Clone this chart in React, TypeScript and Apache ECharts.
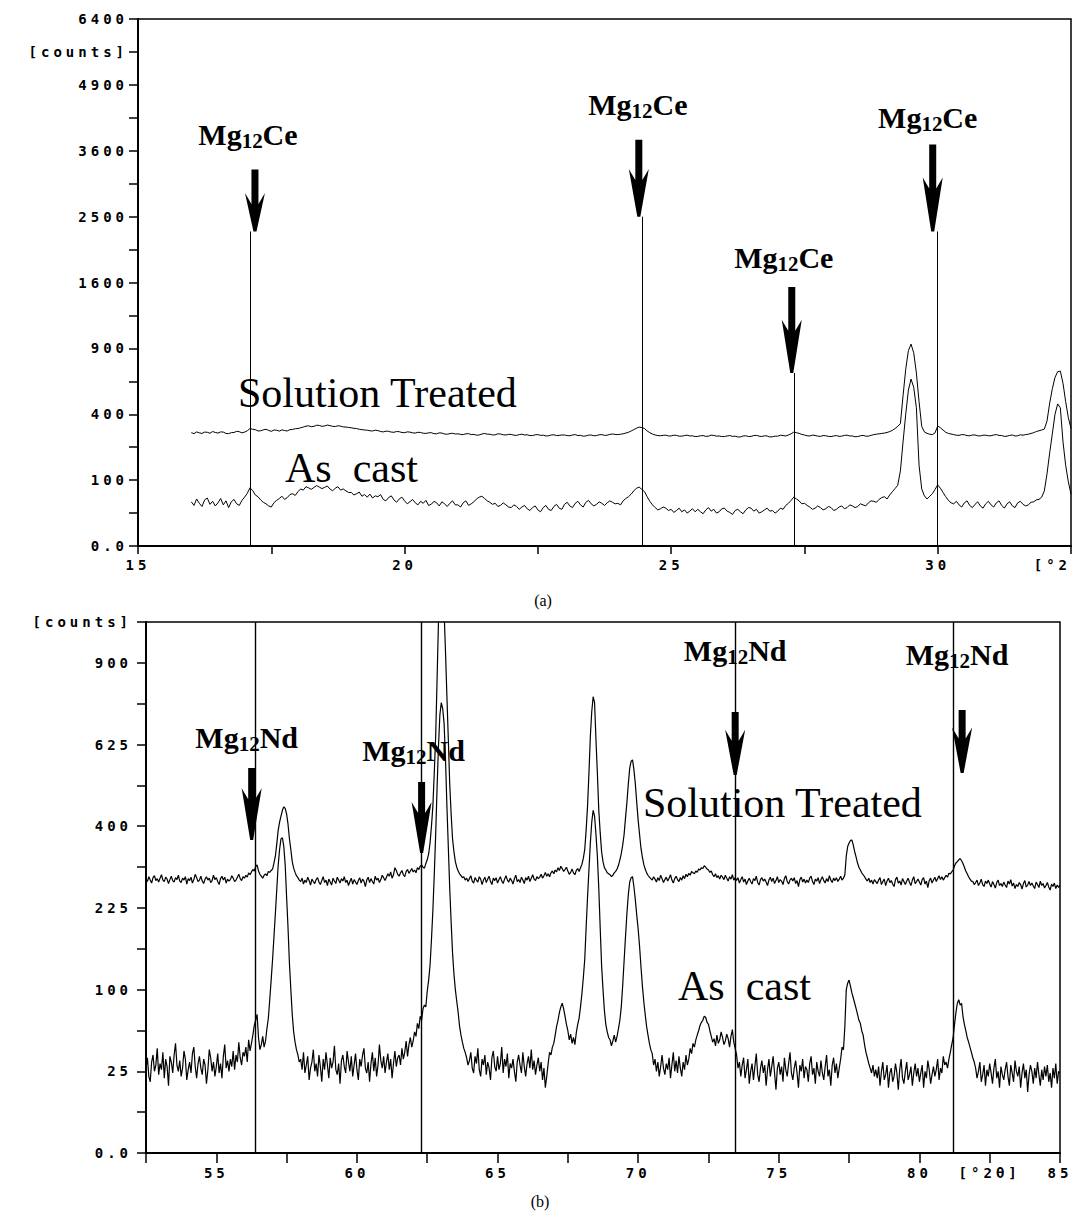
import React, { useEffect, useRef } from "react";
import * as echarts from "echarts";

// ---------------- data ----------------
// panel (a): intensity [counts], 2θ sampled from 16.00° every 0.05°
const A_START = 16.0;
const A_STEP = 0.05;
const solutionTreatedA = [
  296, 291, 300, 295, 292, 299, 298, 293, 302, 297,
  294, 300, 299, 292, 291, 296, 297, 303, 301, 295,
  299, 306, 318, 314, 312, 305, 306, 311, 314, 308,
  303, 310, 309, 304, 311, 307, 305, 312, 313, 317,
  318, 322, 326, 331, 333, 328, 330, 336, 335, 330,
  332, 337, 334, 330, 329, 333, 331, 327, 326, 324,
  322, 319, 318, 314, 312, 310, 309, 306, 305, 309,
  307, 302, 300, 304, 303, 299, 298, 302, 301, 297,
  296, 300, 299, 295, 294, 298, 297, 293, 292, 295,
  296, 291, 290, 295, 294, 289, 288, 291, 293, 289,
  290, 287, 286, 290, 291, 286, 287, 283, 284, 289,
  292, 288, 288, 284, 285, 290, 289, 285, 284, 287,
  287, 283, 282, 286, 288, 284, 285, 281, 281, 285,
  286, 282, 283, 279, 280, 284, 285, 281, 282, 284,
  284, 281, 280, 284, 286, 281, 282, 278, 279, 283,
  284, 280, 281, 285, 286, 282, 283, 287, 289, 287,
  286, 288, 290, 294, 298, 305, 312, 320, 326, 323,
  318, 305, 296, 289, 284, 281, 280, 282, 283, 279,
  279, 283, 282, 278, 278, 281, 283, 279, 280, 276,
  277, 280, 281, 277, 278, 283, 282, 278, 279, 276,
  276, 279, 281, 277, 278, 274, 274, 279, 280, 276,
  277, 281, 282, 278, 276, 280, 279, 274, 275, 278,
  278, 283, 281, 279, 284, 290, 299, 296, 292, 287,
  284, 280, 279, 283, 282, 278, 277, 281, 280, 277,
  276, 279, 281, 277, 278, 282, 283, 279, 279, 275,
  276, 280, 282, 278, 278, 282, 286, 288, 290, 292,
  294, 297, 302, 308, 318, 330, 345, 520, 720, 880,
  939, 860, 690, 480, 330, 300, 292, 288, 286, 295,
  332, 322, 310, 298, 292, 289, 286, 283, 282, 286,
  285, 281, 280, 284, 284, 280, 279, 283, 283, 280,
  280, 284, 286, 282, 281, 277, 278, 282, 284, 279,
  280, 285, 283, 286, 288, 292, 296, 302, 306, 310,
  315, 360, 470, 570, 655, 700, 705, 610, 480, 380,
  318,
];
const asCastA = [
  45, 38, 51, 42, 36, 49, 53, 40, 46, 37,
  43, 52, 39, 47, 34, 45, 50, 41, 38, 48,
  55, 64, 78, 71, 60, 56, 49, 44, 41, 37,
  35, 43, 48, 52, 57, 50, 54, 61, 63, 59,
  68, 75, 72, 81, 78, 74, 79, 84, 80, 76,
  79, 83, 75, 70, 77, 81, 72, 75, 70, 66,
  66, 60, 63, 67, 57, 61, 55, 62, 53, 58,
  56, 61, 50, 47, 54, 58, 49, 44, 51, 55,
  47, 41, 45, 50, 43, 39, 46, 42, 48, 38,
  40, 46, 43, 37, 45, 41, 36, 42, 47, 39,
  39, 35, 43, 47, 38, 41, 45, 51, 55, 57,
  52, 47, 44, 40, 42, 36, 38, 43, 39, 35,
  34, 39, 36, 31, 35, 38, 32, 29, 34, 37,
  30, 27, 34, 38, 31, 29, 36, 40, 33, 31,
  40, 44, 37, 34, 42, 46, 39, 35, 44, 48,
  41, 37, 40, 45, 42, 38, 43, 47, 44, 41,
  42, 39, 47, 52, 56, 62, 70, 77, 80, 74,
  68, 56, 46, 39, 34, 30, 32, 35, 33, 29,
  31, 26, 29, 33, 27, 30, 25, 28, 32, 27,
  31, 27, 24, 30, 34, 28, 31, 25, 27, 32,
  33, 28, 26, 23, 29, 31, 27, 24, 30, 34,
  33, 28, 31, 25, 27, 30, 33, 28, 29, 25,
  28, 33, 31, 38, 42, 48, 55, 51, 47, 41,
  42, 38, 35, 31, 33, 37, 34, 30, 32, 36,
  34, 29, 31, 35, 37, 32, 34, 39, 37, 34,
  36, 41, 39, 37, 43, 47, 46, 44, 50, 54,
  56, 51, 60, 68, 76, 85, 130, 250, 400, 560,
  642, 580, 440, 150, 75, 58, 51, 57, 63, 74,
  86, 77, 66, 56, 48, 43, 41, 46, 39, 35,
  43, 47, 38, 34, 40, 45, 37, 33, 41, 46,
  39, 35, 43, 47, 38, 33, 41, 45, 37, 34,
  43, 46, 40, 37, 39, 44, 45, 49, 50, 55,
  70, 120, 200, 290, 400, 465, 440, 250, 150, 95,
  62,
];

// panel (b): intensity [counts], 2θ sampled from 52.50° every 0.05°
const B_START = 52.5;
const B_STEP = 0.05;
const solutionTreatedB = [
  281, 276, 286, 279, 273, 284, 288, 278, 282, 275,
  283, 290, 279, 276, 285, 281, 272, 280, 287, 278,
  275, 284, 280, 289, 277, 274, 283, 279, 286, 271,
  282, 278, 285, 273, 280, 291, 284, 276, 279, 287,
  277, 272, 281, 286, 279, 283, 274, 278, 289, 280,
  284, 276, 270, 282, 287, 279, 285, 273, 281, 277,
  280, 288, 283, 276, 279, 285, 291, 282, 278, 286,
  283, 289, 285, 294, 290, 296, 301, 298, 307, 311,
  298, 291, 287, 283, 289, 292, 288, 297, 295, 299,
  302, 315, 330, 358, 390, 410, 425, 440, 449, 445,
  430, 405, 370, 345, 318, 304, 295, 288, 284, 279,
  276, 283, 271, 279, 274, 285, 278, 269, 281, 276,
  272, 280, 284, 275, 270, 278, 286, 274, 279, 268,
  281, 275, 269, 283, 277, 272, 285, 279, 273, 282,
  277, 286, 274, 279, 268, 276, 283, 271, 280, 275,
  270, 278, 284, 273, 281, 277, 266, 279, 285, 274,
  282, 276, 271, 287, 279, 283, 274, 280, 289, 284,
  278, 285, 292, 287, 296, 283, 290, 305, 299, 291,
  287, 294, 299, 290, 286, 297, 301, 293, 298, 303,
  296, 300, 294, 305, 301, 308, 311, 306, 304, 314,
  322, 335, 360, 400, 450, 540, 650, 840, 1060, 1150,
  1200, 1160, 1100, 940, 780, 640, 510, 430, 370, 340,
  318, 306, 298, 292, 288, 284, 286, 279, 283, 276,
  282, 288, 277, 273, 284, 279, 275, 286, 281, 270,
  279, 285, 274, 281, 287, 276, 270, 283, 278, 284,
  273, 280, 286, 277, 272, 281, 288, 279, 275, 283,
  278, 271, 282, 289, 276, 280, 274, 285, 279, 272,
  284, 279, 287, 276, 283, 290, 281, 278, 286, 282,
  285, 291, 283, 288, 295, 287, 292, 286, 294, 298,
  292, 300, 296, 305, 299, 308, 303, 297, 301, 306,
  298, 291, 295, 302, 294, 290, 299, 303, 297, 305,
  312, 325, 345, 390, 450, 540, 650, 730, 780, 760,
  640, 540, 440, 385, 340, 318, 305, 300, 294, 292,
  290, 286, 289, 294, 297, 302, 310, 322, 336, 355,
  380, 420, 460, 510, 555, 575, 579, 550, 510, 460,
  415, 380, 348, 328, 312, 302, 294, 289, 285, 282,
  279, 286, 281, 275, 284, 278, 289, 282, 274, 280,
  285, 277, 283, 290, 279, 273, 282, 287, 280, 276,
  284, 279, 288, 282, 291, 286, 293, 289, 297, 294,
  292, 298, 295, 302, 300, 305, 303, 309, 306, 302,
  300, 295, 298, 290, 286, 292, 284, 288, 281, 289,
  285, 280, 289, 283, 277, 286, 281, 290, 279, 284,
  278, 284, 273, 280, 286, 275, 281, 270, 277, 283,
  276, 271, 282, 278, 287, 274, 269, 280, 284, 277,
  281, 275, 268, 279, 285, 276, 283, 272, 278, 286,
  274, 280, 277, 270, 282, 288, 276, 271, 279, 283,
  277, 284, 272, 278, 266, 280, 285, 275, 281, 273,
  279, 274, 283, 287, 276, 270, 281, 277, 284, 272,
  280, 286, 278, 273, 282, 276, 288, 279, 274, 283,
  278, 284, 276, 281, 287, 279, 283, 290, 330, 352,
  360, 366, 367, 355, 340, 328, 315, 306, 300, 294,
  290, 286, 281, 277, 283, 274, 279, 271, 280, 276,
  272, 279, 284, 270, 276, 281, 268, 277, 283, 274,
  278, 271, 266, 280, 285, 273, 277, 269, 282, 276,
  270, 277, 283, 274, 268, 279, 286, 272, 276, 281,
  275, 269, 280, 284, 271, 277, 264, 278, 283, 273,
  279, 285, 276, 282, 288, 280, 286, 279, 284, 289,
  285, 293, 292, 296, 300, 309, 315, 318, 322, 325,
  320, 314, 306, 298, 292, 286, 281, 277, 276, 270,
  274, 279, 268, 273, 281, 270, 266, 277, 272, 279,
  271, 265, 276, 270, 263, 274, 279, 268, 272, 266,
  275, 269, 264, 277, 271, 280, 267, 273, 262, 270,
  266, 274, 270, 261, 272, 278, 265, 269, 276, 268,
  273, 267, 262, 275, 270, 264, 277, 268, 272, 263,
  268, 274, 265, 259, 271, 266, 273, 262, 269, 264,
  269,
];
const asCastB = [
  27, 34, 22, 19, 31, 36, 25, 29, 41, 23,
  30, 26, 38, 21, 33, 28, 17, 35, 31, 24,
  36, 45, 29, 25, 32, 22, 27, 39, 33, 20,
  26, 31, 24, 37, 42, 28, 21, 30, 35, 27,
  23, 33, 29, 18, 26, 40, 34, 25, 31, 22,
  28, 37, 24, 30, 21, 35, 44, 27, 32, 25,
  33, 28, 39, 26, 36, 31, 46, 34, 29, 38,
  35, 42, 31, 48, 39, 45, 52, 61, 66, 72,
  50, 40, 44, 51, 42, 47, 58, 68, 88, 112,
  140, 175, 215, 260, 310, 345, 370, 372, 352, 310,
  245, 190, 135, 100, 72, 55, 46, 40, 36, 31,
  33, 26, 38, 24, 29, 35, 20, 27, 31, 40,
  25, 30, 22, 36, 28, 19, 33, 26, 38, 29,
  21, 34, 27, 31, 43, 26, 23, 30, 18, 32,
  36, 28, 24, 39, 31, 25, 35, 22, 29, 37,
  26, 20, 33, 28, 36, 41, 27, 24, 31, 19,
  30, 38, 25, 34, 22, 29, 44, 32, 27, 35,
  24, 31, 37, 26, 33, 21, 30, 39, 28, 34,
  36, 29, 41, 33, 38, 47, 35, 44, 50, 42,
  47, 55, 51, 63, 58, 70, 66, 78, 82, 80,
  98, 112, 132, 170, 220, 290, 380, 500, 620, 720,
  760, 740, 690, 580, 450, 350, 262, 200, 150, 120,
  100, 86, 74, 60, 52, 46, 41, 38, 34, 29,
  32, 38, 27, 24, 35, 30, 41, 26, 22, 33,
  29, 36, 23, 31, 27, 20, 34, 39, 28, 25,
  35, 26, 30, 42, 24, 33, 28, 37, 21, 30,
  27, 33, 25, 19, 31, 36, 29, 24, 38, 28,
  22, 30, 35, 27, 40, 26, 32, 23, 29, 34,
  25, 31, 20, 27, 16, 22, 30, 38, 36, 42,
  45, 52, 60, 66, 74, 80, 84, 78, 70, 62,
  56, 48, 53, 45, 50, 44, 54, 62, 68, 80,
  95, 115, 140, 190, 245, 300, 360, 410, 440, 425,
  380, 330, 262, 190, 132, 100, 76, 62, 55, 50,
  48, 43, 47, 52, 46, 51, 58, 66, 80, 105,
  138, 175, 215, 250, 275, 284, 286, 265, 240, 212,
  188, 160, 130, 105, 86, 72, 60, 52, 45, 40,
  37, 29, 33, 25, 31, 22, 28, 36, 27, 23,
  30, 26, 34, 21, 29, 38, 25, 32, 24, 35,
  27, 22, 31, 26, 36, 29, 33, 41, 37, 45,
  42, 48, 52, 56, 61, 64, 66, 70, 69, 64,
  62, 56, 51, 46, 49, 43, 52, 45, 48, 55,
  50, 44, 47, 53, 49, 42, 51, 57, 46, 41,
  36, 27, 31, 22, 29, 34, 21, 26, 33, 18,
  25, 30, 20, 28, 37, 23, 19, 27, 32, 24,
  29, 17, 26, 33, 22, 28, 35, 24, 15, 27,
  31, 23, 28, 19, 34, 26, 22, 30, 38, 24,
  20, 27, 32, 24, 16, 29, 25, 33, 21, 28,
  26, 19, 30, 35, 23, 27, 18, 31, 25, 22,
  32, 24, 20, 28, 36, 22, 26, 17, 29, 34,
  24, 30, 21, 27, 33, 42, 40, 60, 100, 108,
  112, 104, 96, 90, 84, 78, 72, 66, 63, 56,
  52, 44, 38, 34, 30, 27, 24, 29, 22, 26,
  21, 28, 17, 25, 31, 20, 23, 29, 16, 24,
  27, 19, 22, 30, 24, 15, 26, 33, 21, 18,
  25, 31, 20, 23, 28, 17, 24, 30, 22, 27,
  19, 24, 29, 16, 25, 21, 32, 26, 18, 23,
  28, 22, 26, 33, 20, 27, 24, 35, 29, 31,
  27, 33, 38, 44, 50, 62, 74, 84, 88, 82,
  84, 70, 62, 56, 50, 46, 42, 38, 34, 31,
  27, 21, 25, 31, 19, 23, 29, 17, 26, 22,
  30, 24, 18, 27, 33, 21, 25, 16, 28, 23,
  20, 26, 31, 22, 17, 29, 24, 19, 32, 25,
  22, 28, 16, 24, 30, 21, 26, 14, 23, 29,
  25, 18, 27, 21, 31, 23, 17, 26, 20, 28,
  22, 29, 19, 24, 16, 27, 21, 30, 18, 25,
  24,
];

// phase markers (2θ) and heights [counts]
const ceMarkerPositions = [17.1, 24.45, 27.3, 30.0];
const ceMarkerTopCounts = [2280, 2500, 690, 2280];
const ndMarkerPositions = [56.4, 62.3, 73.45, 81.2];
const ndArrowTipCounts = [367, 337, 535, 541];

// tick labels
const yTickLabelsA = ["0.0", "100", "400", "900", "1600", "2500", "3600", "4900", "6400"];
const yTickLabelsB = ["0.0", "25", "100", "225", "400", "625", "900"];
const xTickValuesA = [15, 20, 25, 30, 32.5];
const xTickLabelsA = ["15", "20", "25", "30", "[°2"];
const xTickValuesB = [55, 60, 65, 70, 75, 80, 82.5, 85];
const xTickLabelsB = ["55", "60", "65", "70", "75", "80", "[°2θ]", "85"];
const UNIT_LABEL = "[counts]";

// ---------------- layout (pixels) ----------------
const arrowLayoutA = [
  { dx: 5, len: 62, ldx: -2, ldy: 35 },
  { dx: -3, len: 77, ldx: -4, ldy: 35 },
  { dx: -2, len: 86, ldx: -10, ldy: 29 },
  { dx: -5, len: 87, ldx: -10, ldy: 27 },
];
const arrowLayoutB = [
  { dx: -4, len: 72, ldx: -9, ldy: 31 },
  { dx: 0, len: 71, ldx: -8, ldy: 32 },
  { dx: 0, len: 63, ldx: 0, ldy: 62 },
  { dx: 9, len: 63, ldx: 4, ldy: 55 },
];

const MONO = "'DejaVu Sans Mono', 'Liberation Mono', monospace";
const SERIF = "'Liberation Serif', 'Times New Roman', serif";

const toPairs = (vals: number[], start: number, step: number) =>
  vals.map((v, i) => [Math.round((start + i * step) * 1000) / 1000, Math.sqrt(v)]);

const near = (a: number, b: number) => Math.abs(a - b) < 1e-6;

function arrowShape(cx: number, tipY: number, len: number, headFrac: number) {
  const top = tipY - len;
  const barbY = top + len * headFrac;
  const notch = barbY + 11;
  return {
    type: "polygon",
    silent: true,
    shape: {
      points: [
        [cx - 3.5, top],
        [cx + 3.5, top],
        [cx + 3.5, notch],
        [cx + 10, barbY],
        [cx + 1.5, tipY],
        [cx - 1.5, tipY],
        [cx - 10, barbY],
        [cx - 3.5, notch],
      ],
    },
    style: { fill: "#000" },
  };
}

function phaseLabel(cx: number, cy: number, el: string) {
  return {
    type: "text",
    silent: true,
    x: cx,
    y: cy,
    style: {
      text: `{m|Mg}{s|12}{m|${el}}`,
      align: "center",
      verticalAlign: "middle",
      fill: "#000",
      rich: {
        m: { fontSize: 30, fontWeight: "bold", fontFamily: SERIF, lineHeight: 34, fill: "#000" },
        s: {
          fontSize: 21,
          fontWeight: "bold",
          fontFamily: SERIF,
          lineHeight: 18,
          verticalAlign: "bottom",
          fill: "#000",
        },
      },
    },
  };
}

function plainText(x: number, y: number, text: string, size: number, align = "left") {
  return {
    type: "text",
    silent: true,
    x,
    y,
    style: {
      text,
      fontSize: size,
      fontFamily: SERIF,
      fill: "#000",
      align,
      verticalAlign: "middle",
    },
  };
}

const axisLabelBase = {
  color: "#000",
  fontFamily: MONO,
  fontWeight: "bold",
  fontSize: 14,
};

const spacingCss =
  'text[style*="DejaVu Sans Mono"], text[font-family*="DejaVu Sans Mono"] { letter-spacing: 4px; }';

export default function App() {
  const ref = useRef<HTMLDivElement>(null);

  useEffect(() => {
    if (!ref.current) return;
    const chart = echarts.init(ref.current, undefined, { renderer: "svg" });

    const axisLineStyle = { show: true, onZero: false, lineStyle: { color: "#000", width: 2 } };

    const option: any = {
      animation: false,
      backgroundColor: "#fff",
      grid: [
        {
          left: 138, top: 19, width: 933, height: 527,
          show: true, borderColor: "#000", borderWidth: 1.5,
          containLabel: false, outerBoundsMode: "none",
        },
        {
          left: 146, top: 622, width: 914, height: 531,
          show: true, borderColor: "#000", borderWidth: 1.5,
          containLabel: false, outerBoundsMode: "none",
        },
      ],
      xAxis: [
        {
          gridIndex: 0,
          type: "value",
          min: 15,
          max: 32.5,
          interval: 2.5,
          axisLine: axisLineStyle,
          axisTick: { show: true, length: 8, lineStyle: { color: "#000", width: 1.5 } },
          splitLine: { show: false },
          axisLabel: {
            ...axisLabelBase,
            margin: 12,
            showMinLabel: true,
            showMaxLabel: true,
            alignMaxLabel: "right",
            formatter: (v: number) => {
              const i = xTickValuesA.findIndex((t) => near(t, v));
              return i >= 0 ? xTickLabelsA[i] : "";
            },
          },
        },
        {
          gridIndex: 1,
          type: "value",
          min: 52.5,
          max: 85,
          interval: 2.5,
          axisLine: axisLineStyle,
          axisTick: { show: true, length: 10, lineStyle: { color: "#000", width: 1.5 } },
          splitLine: { show: false },
          axisLabel: {
            ...axisLabelBase,
            margin: 13,
            showMinLabel: true,
            showMaxLabel: true,
            formatter: (v: number) => {
              const i = xTickValuesB.findIndex((t) => near(t, v));
              return i >= 0 ? xTickLabelsB[i] : "";
            },
          },
        },
      ],
      yAxis: [
        {
          gridIndex: 0,
          type: "value",
          min: 0,
          max: 80,
          interval: 5,
          axisLine: axisLineStyle,
          axisTick: { show: true, length: 9, lineStyle: { color: "#000", width: 1.5 } },
          splitLine: { show: false },
          axisLabel: {
            ...axisLabelBase,
            margin: 10,
            showMaxLabel: true,
            formatter: (v: number) => {
              if (near(v % 10, 0)) return yTickLabelsA[Math.round(v / 10)] ?? "";
              if (near(v, 75)) return UNIT_LABEL;
              return "";
            },
          },
        },
        {
          gridIndex: 1,
          type: "value",
          min: 0,
          max: 32.5,
          interval: 2.5,
          axisLine: axisLineStyle,
          axisTick: { show: true, length: 9, lineStyle: { color: "#000", width: 1.5 } },
          splitLine: { show: false },
          axisLabel: {
            ...axisLabelBase,
            margin: 14,
            showMaxLabel: true,
            formatter: (v: number) => {
              if (near(v % 5, 0)) return yTickLabelsB[Math.round(v / 5)] ?? "";
              if (near(v, 32.5)) return UNIT_LABEL;
              return "";
            },
          },
        },
      ],
      series: [
        {
          name: "Solution Treated (a)",
          type: "line",
          xAxisIndex: 0,
          yAxisIndex: 0,
          showSymbol: false,
          symbol: "none",
          silent: true,
          data: toPairs(solutionTreatedA, A_START, A_STEP),
          lineStyle: { color: "#000", width: 1 },
          markLine: {
            silent: true,
            symbol: ["none", "none"],
            label: { show: false },
            lineStyle: { color: "#000", width: 1, type: "solid" },
            data: ceMarkerPositions.map((x, i) => [
              { coord: [x, 0] },
              { coord: [x, Math.sqrt(ceMarkerTopCounts[i])] },
            ]),
          },
        },
        {
          name: "As cast (a)",
          type: "line",
          xAxisIndex: 0,
          yAxisIndex: 0,
          showSymbol: false,
          symbol: "none",
          silent: true,
          data: toPairs(asCastA, A_START, A_STEP),
          lineStyle: { color: "#000", width: 1 },
        },
        {
          name: "Solution Treated (b)",
          type: "line",
          xAxisIndex: 1,
          yAxisIndex: 1,
          showSymbol: false,
          symbol: "none",
          silent: true,
          clip: true,
          data: toPairs(solutionTreatedB, B_START, B_STEP),
          lineStyle: { color: "#000", width: 1.2 },
          markLine: {
            silent: true,
            symbol: ["none", "none"],
            label: { show: false },
            lineStyle: { color: "#000", width: 1.4, type: "solid" },
            data: ndMarkerPositions.map((x) => [{ coord: [x, 0] }, { coord: [x, 32.5] }]),
          },
        },
        {
          name: "As cast (b)",
          type: "line",
          xAxisIndex: 1,
          yAxisIndex: 1,
          showSymbol: false,
          symbol: "none",
          silent: true,
          data: toPairs(asCastB, B_START, B_STEP),
          lineStyle: { color: "#000", width: 1.2 },
        },
      ],
    };

    chart.setOption(option);

    const toPx = (g: number, x: number, y: number) =>
      chart.convertToPixel({ gridIndex: g } as any, [x, y]) as number[];

    const graphics: any[] = [];

    ceMarkerPositions.forEach((x, i) => {
      const L = arrowLayoutA[i];
      const [px, py] = toPx(0, x, Math.sqrt(ceMarkerTopCounts[i]));
      graphics.push(arrowShape(px + L.dx, py, L.len, 0.38));
      graphics.push(phaseLabel(px + L.ldx, py - L.len - L.ldy, "Ce"));
    });

    ndMarkerPositions.forEach((x, i) => {
      const L = arrowLayoutB[i];
      const [px, py] = toPx(1, x, Math.sqrt(ndArrowTipCounts[i]));
      graphics.push(arrowShape(px + L.dx, py, L.len, 0.28));
      graphics.push(phaseLabel(px + L.ldx, py - L.len - L.ldy, "Nd"));
    });

    graphics.push(plainText(238, 393, "Solution Treated", 42));
    graphics.push(plainText(285, 468, "As  cast", 42));
    graphics.push(plainText(643, 803, "Solution Treated", 42));
    graphics.push(plainText(678, 986, "As  cast", 42));
    graphics.push(plainText(543, 600, "(a)", 16, "center"));
    graphics.push(plainText(540, 1201, "(b)", 16, "center"));

    chart.setOption({ graphic: graphics });

    return () => chart.dispose();
  }, []);

  return (
    <>
      <style>{spacingCss}</style>
      <div
        ref={ref}
        style={{ position: "absolute", left: 0, top: 0, width: 1081, height: 1214, background: "#fff" }}
      />
    </>
  );
}
